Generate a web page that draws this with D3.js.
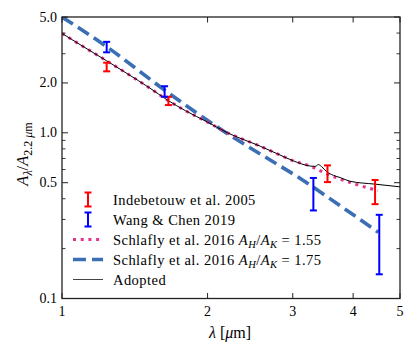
<!DOCTYPE html>
<html><head><meta charset="utf-8">
<script src="https://cdn.jsdelivr.net/npm/d3@7"></script>
<style>
body{margin:0;background:#fff;}
</style></head>
<body><svg id="chart" width="416" height="354" font-family="'Liberation Serif', 'DejaVu Serif', serif"></svg>
<script>
// ---- data ----
const xTicks = [1, 2, 3, 4, 5];
const yTicks = [0.1, 0.5, 1.0, 2.0, 5.0];
const yMinorTicks = [0.2, 0.3, 0.4, 0.6, 0.7, 0.8, 0.9, 3, 4];

const indebWl  = [1.237, 1.66, 3.54, 4.44];
const indebVal = [2.50, 1.56, 0.57, 0.445];
const indebErr = [0.15, 0.09, 0.066, 0.074];

const wangWl  = [1.237, 1.63, 3.31, 4.53];
const wangVal = [3.30, 1.78, 0.437, 0.23];
const wangErr = [0.24, 0.13, 0.097, 0.09];

const s155Wl  = [1.0, 1.1, 1.237, 1.363, 1.52, 1.65, 1.8, 2.0, 2.2, 2.57, 2.78, 3.01, 3.26, 3.44, 3.73, 4.07, 4.5];
const s155Val = [3.98, 3.35, 2.72, 2.28, 1.86, 1.58, 1.36, 1.16, 1.0, 0.83, 0.75, 0.677, 0.63, 0.585, 0.530, 0.487, 0.448];

const s175Wl  = [1.0, 1.237, 1.63, 2.14, 2.61, 3.11, 3.69, 4.51];
const s175Val = [5.0, 3.31, 1.81, 1.04, 0.725, 0.53, 0.377, 0.251];

const adoptWl  = [1.0, 1.1, 1.237, 1.363, 1.52, 1.65, 1.8, 2.0, 2.2, 2.57, 2.78, 3.01, 3.26, 3.34, 3.39, 3.44, 3.53, 3.64, 3.76, 3.94, 4.44, 5.0];
const adoptVal = [3.98, 3.35, 2.72, 2.28, 1.86, 1.58, 1.36, 1.16, 1.0, 0.83, 0.75, 0.677, 0.63, 0.627, 0.643, 0.626, 0.581, 0.554, 0.537, 0.51, 0.49, 0.472];

// ---- layout ----
const L = 62, R = 400, T = 17, B = 298.5;
const FONT = "'Liberation Serif', 'DejaVu Serif', serif";
const svg = d3.select("#chart");
const x = d3.scaleLog().domain([1, 5]).range([L, R]);
const y = d3.scaleLog().domain([0.1, 5]).range([B, T]);

svg.append("defs").append("clipPath").attr("id", "clip")
  .append("rect").attr("x", L).attr("y", T).attr("width", R - L).attr("height", B - T);

const plot = svg.append("g").attr("clip-path", "url(#clip)");
const line = d3.line().x(d => x(d[0])).y(d => y(d[1])).curve(d3.curveMonotoneX);
const zip = (a, b) => a.map((v, i) => [v, b[i]]);

const pink = "#e8348f", dashBlue = "#3b6fb5";

plot.append("path").datum(zip(s175Wl, s175Val)).attr("d", line)
  .attr("fill", "none").attr("stroke", dashBlue).attr("stroke-width", 3.6)
  .attr("stroke-dasharray", "13,6");
plot.append("path").datum(zip(s155Wl, s155Val)).attr("d", line)
  .attr("fill", "none").attr("stroke", pink).attr("stroke-width", 3)
  .attr("stroke-dasharray", "3,4.7");
plot.append("path").datum(zip(adoptWl, adoptVal)).attr("d", line)
  .attr("fill", "none").attr("stroke", "#000").attr("stroke-width", 1);

function errorbars(wl, val, err, color) {
  const g = svg.append("g").attr("stroke", color).attr("stroke-width", 2);
  wl.forEach((w, i) => {
    const cx = x(w), y1 = y(val[i] + err[i]), y2 = y(val[i] - err[i]);
    g.append("line").attr("x1", cx).attr("x2", cx).attr("y1", y1).attr("y2", y2);
    g.append("line").attr("x1", cx - 3.5).attr("x2", cx + 3.5).attr("y1", y1).attr("y2", y1);
    g.append("line").attr("x1", cx - 3.5).attr("x2", cx + 3.5).attr("y1", y2).attr("y2", y2);
  });
}
errorbars(indebWl, indebVal, indebErr, "#ff0000");
errorbars(wangWl, wangVal, wangErr, "#0000ff");

// ---- axes ----
const axG = svg.append("g");
const tickStroke = "#222";
xTicks.forEach(t => {
  axG.append("line").attr("x1", x(t)).attr("x2", x(t)).attr("y1", B).attr("y2", B - 5.5).attr("stroke", tickStroke).attr("stroke-width", 1);
  axG.append("line").attr("x1", x(t)).attr("x2", x(t)).attr("y1", T).attr("y2", T + 5.5).attr("stroke", tickStroke).attr("stroke-width", 1);
  axG.append("text").attr("x", x(t)).attr("y", B + 17).attr("text-anchor", "middle")
    .attr("font-family", FONT).attr("font-size", 14).text(d3.format("d")(t));
});
yTicks.forEach(t => {
  axG.append("line").attr("x1", L).attr("x2", L + 6).attr("y1", y(t)).attr("y2", y(t)).attr("stroke", tickStroke).attr("stroke-width", 1);
  axG.append("line").attr("x1", R).attr("x2", R - 6).attr("y1", y(t)).attr("y2", y(t)).attr("stroke", tickStroke).attr("stroke-width", 1);
  axG.append("text").attr("x", L - 5).attr("y", y(t) + 4.5).attr("text-anchor", "end")
    .attr("font-family", FONT).attr("font-size", 14).text(d3.format(".1f")(t));
});
yMinorTicks.forEach(t => {
  axG.append("line").attr("x1", L).attr("x2", L + 3.5).attr("y1", y(t)).attr("y2", y(t)).attr("stroke", tickStroke).attr("stroke-width", 0.9);
  axG.append("line").attr("x1", R).attr("x2", R - 3.5).attr("y1", y(t)).attr("y2", y(t)).attr("stroke", tickStroke).attr("stroke-width", 0.9);
});
axG.append("rect").attr("x", L).attr("y", T).attr("width", R - L).attr("height", B - T)
  .attr("fill", "none").attr("stroke", "#222").attr("stroke-width", 1.3);

// axis labels
const xl = svg.append("text").attr("x", 230).attr("y", 338).attr("text-anchor", "middle")
  .attr("font-family", FONT).attr("font-size", 16);
xl.append("tspan").attr("font-style", "italic").text("λ");
xl.append("tspan").text(" [");
xl.append("tspan").attr("font-style", "italic").text("μ");
xl.append("tspan").text("m]");

const yl = svg.append("text").attr("transform", "translate(28,154) rotate(-90)").attr("text-anchor", "middle")
  .attr("font-family", FONT).attr("font-size", 16.5);
yl.append("tspan").attr("font-style", "italic").text("A");
yl.append("tspan").attr("font-style", "italic").attr("font-size", 12).attr("dy", 3.5).text("λ");
yl.append("tspan").attr("dy", -3.5).text("/");
yl.append("tspan").attr("font-style", "italic").text("A");
yl.append("tspan").attr("font-size", 12).attr("dy", 3.5).text("2.2 ");
yl.append("tspan").attr("font-size", 12).attr("font-style", "italic").text("μ");
yl.append("tspan").attr("font-size", 12).text("m");

// ---- legend ----
const legLabels = ["Indebetouw et al. 2005", "Wang & Chen 2019", "Schlafly et al. 2016 ", "Schlafly et al. 2016 ", "Adopted"];
const legRatios = [null, null, "1.55", "1.75", null];
const lg = svg.append("g");
legLabels.forEach((lab, i) => {
  const cy = 199.5 + i * 20;
  if (i < 2) {
    const c = i === 0 ? "#ff0000" : "#0000ff";
    const g = lg.append("g").attr("stroke", c).attr("stroke-width", 2);
    g.append("line").attr("x1", 88).attr("x2", 88).attr("y1", cy - 7).attr("y2", cy + 7);
    g.append("line").attr("x1", 84.5).attr("x2", 91.5).attr("y1", cy - 7).attr("y2", cy - 7);
    g.append("line").attr("x1", 84.5).attr("x2", 91.5).attr("y1", cy + 7).attr("y2", cy + 7);
  } else if (i === 2) {
    lg.append("line").attr("x1", 73).attr("x2", 103).attr("y1", cy).attr("y2", cy)
      .attr("stroke", pink).attr("stroke-width", 3).attr("stroke-dasharray", "3,4.7");
  } else if (i === 3) {
    lg.append("line").attr("x1", 73).attr("x2", 103).attr("y1", cy).attr("y2", cy)
      .attr("stroke", dashBlue).attr("stroke-width", 3.6).attr("stroke-dasharray", "13,6");
  } else {
    lg.append("line").attr("x1", 73).attr("x2", 103).attr("y1", cy).attr("y2", cy)
      .attr("stroke", "#444").attr("stroke-width", 1);
  }
  const t = lg.append("text").attr("x", 113).attr("y", cy + 5).attr("font-family", FONT)
    .attr("font-size", 14.5).attr("letter-spacing", 0.45);
  t.append("tspan").text(lab);
  if (legRatios[i]) {
    t.append("tspan").attr("font-style", "italic").text("A");
    t.append("tspan").attr("font-style", "italic").attr("font-size", 10.5).attr("dy", 3).text("H");
    t.append("tspan").attr("dy", -3).text("/");
    t.append("tspan").attr("font-style", "italic").text("A");
    t.append("tspan").attr("font-style", "italic").attr("font-size", 10.5).attr("dy", 3).text("K");
    t.append("tspan").attr("dy", -3).text(" = " + legRatios[i]);
  }
});
</script></body></html>
